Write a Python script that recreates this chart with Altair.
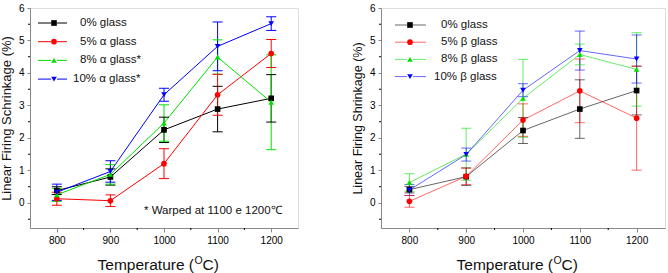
import altair as alt
import pandas as pd

# Firing temperatures (°C)
temps = [800, 900, 1000, 1100, 1200]

# Linear firing shrinkage (%) and error bars, alpha-glass additions
a0 = [0.38, 0.80, 2.25, 2.89, 3.22]
a0_err = [0.12, 0.25, 0.39, 0.70, 0.73]
a5 = [0.13, 0.07, 1.21, 3.33, 4.60]
a5_err = [0.20, 0.18, 0.46, 0.63, 0.43]
a8 = [0.25, 0.88, 2.46, 4.49, 3.10]
a8_err = [0.20, 0.30, 0.56, 0.53, 1.46]
a10 = [0.33, 0.97, 3.33, 4.82, 5.52]
a10_err = [0.25, 0.33, 0.20, 0.75, 0.21]

# Linear firing shrinkage (%) and error bars, beta-glass additions
b0 = [0.41, 0.81, 2.23, 2.89, 3.46]
b0_err = [0.10, 0.27, 0.40, 0.90, 0.75]
b5 = [0.05, 0.82, 2.55, 3.45, 2.61]
b5_err = [0.18, 0.25, 0.50, 0.98, 1.60]
b8 = [0.63, 1.50, 3.22, 4.57, 4.11]
b8_err = [0.27, 0.80, 1.20, 0.32, 1.13]
b10 = [0.40, 1.49, 3.47, 4.69, 4.43]
b10_err = [0.17, 0.20, 0.20, 0.60, 0.74]

alpha_labels = ["0% glass", "5% \u03b1 glass", "8% \u03b1 glass*", "10% \u03b1 glass*"]
beta_labels = ["0% glass", "5% \u03b2 glass", "8% \u03b2 glass", "10% \u03b2 glass"]
series_keys = ["s0", "s5", "s8", "s10"]
colors = ["#000000", "#ff0000", "#00e000", "#0000ff"]
shapes = ["square", "circle", "triangle-up", "triangle-down"]

y_ticks = [0, 1, 2, 3, 4, 5, 6]
y_minor = [-0.5, 0.5, 1.5, 2.5, 3.5, 4.5, 5.5]
x_ticks = [800, 900, 1000, 1100, 1200]
x_minor = [850, 950, 1050, 1150]

FONT = "Liberation Sans"


def make_frame(values, errors):
    rows = []
    for key, vals, errs in zip(series_keys, values, errors):
        for t, v, e in zip(temps, vals, errs):
            rows.append({"series": key, "temp": t, "value": v,
                         "lo": v - e, "hi": v + e})
    return pd.DataFrame(rows)


def panel(df, labels, ytitle, ytitle_size, width, height, line_opacity,
          legend_pos, note=None):
    xs = alt.Scale(domain=[750, 1250], nice=False, zero=False)
    ys = alt.Scale(domain=[-0.77, 6], nice=False, zero=False)
    cs = alt.Scale(domain=series_keys, range=colors)
    ss = alt.Scale(domain=series_keys, range=shapes)

    x_axis = alt.Axis(values=x_ticks, title=None, grid=False, tickSize=4,
                      labelPadding=3, format="d", labelOverlap=False)
    y_axis = alt.Axis(values=y_ticks, title=ytitle, grid=False, tickSize=3,
                      labelPadding=3, titlePadding=4.5, titleFontSize=ytitle_size,
                      titleFontWeight="normal", titleFont=FONT, titleColor="#111",
                      labelOverlap=False, format="d")

    def X(field):
        return alt.X(field, scale=xs, axis=x_axis)

    def Y(field):
        return alt.Y(field, scale=ys, axis=y_axis)

    col = alt.Color("series:N", scale=cs, legend=None)

    base = alt.Chart(df)
    lines = base.mark_line(strokeWidth=1, opacity=line_opacity).encode(
        x=X("temp:Q"), y=Y("value:Q"), color=col, detail="series:N")
    bars = base.mark_rule(strokeWidth=1, opacity=line_opacity).encode(
        x=X("temp:Q"), y=Y("lo:Q"), y2="hi:Q", color=col)
    cap_lo = base.mark_tick(size=10, thickness=1, orient="horizontal",
                            opacity=line_opacity).encode(
        x=X("temp:Q"), y=Y("lo:Q"), color=col)
    cap_hi = base.mark_tick(size=10, thickness=1, orient="horizontal",
                            opacity=line_opacity).encode(
        x=X("temp:Q"), y=Y("hi:Q"), color=col)
    pts = base.mark_point(filled=True, size=32, opacity=1).encode(
        x=X("temp:Q"), y=Y("value:Q"), color=col,
        shape=alt.Shape("series:N", scale=ss, legend=None))

    # minor ticks on both axes
    ymin_df = pd.DataFrame({"v": y_minor})
    xmin_df = pd.DataFrame({"v": x_minor})
    y_minor_ticks = alt.Chart(ymin_df).mark_rule(color="#000", strokeWidth=1).encode(
        y=Y("v:Q"), x=alt.value(-2), x2=alt.value(0))
    x_minor_ticks = alt.Chart(xmin_df).mark_rule(color="#000", strokeWidth=1).encode(
        x=X("v:Q"), y=alt.value(height), y2=alt.value(height + 2))

    layers = [lines, bars, cap_lo, cap_hi, pts, y_minor_ticks, x_minor_ticks]

    # hand-drawn legend: line, marker, label per series
    leg_df = pd.DataFrame({"series": series_keys, "label": labels})
    lx0, lm, lx1, tx, ly0, ldy = legend_pos
    for i, key in enumerate(series_keys):
        yy = ly0 + i * ldy
        lb = alt.Chart(leg_df).transform_filter(alt.datum.series == key)
        layers.append(lb.mark_rule(color=colors[i], strokeWidth=1, opacity=line_opacity).encode(
            x=alt.value(lx0), x2=alt.value(lm - 3), y=alt.value(yy)))
        layers.append(lb.mark_rule(color=colors[i], strokeWidth=1, opacity=line_opacity).encode(
            x=alt.value(lm + 3), x2=alt.value(lx1), y=alt.value(yy)))
        layers.append(lb.mark_point(filled=True, size=32, opacity=1, color=colors[i],
                                    shape=shapes[i]).encode(
            x=alt.value(lm), y=alt.value(yy)))
        shift = -7 if labels[i].startswith("10") else 0
        layers.append(lb.mark_text(align="left", baseline="middle", font=FONT,
                                   fontSize=11.5, color="#111").encode(
            x=alt.value(tx + shift), y=alt.value(yy), text="label:N"))

    one = pd.DataFrame({"k": [0]})
    tb = alt.Chart(one)
    # x-axis title with superscript degree "O"
    tcx = width / 2 + 30
    layers.append(tb.mark_text(align="right", baseline="alphabetic", font=FONT,
                               fontSize=15.5, color="#111").encode(
        x=alt.value(tcx), y=alt.value(height + 42), text=alt.value("Temperature (")))
    layers.append(tb.mark_text(align="left", baseline="alphabetic", font=FONT,
                               fontSize=10.5, color="#111").encode(
        x=alt.value(tcx + 0.5), y=alt.value(height + 36), text=alt.value("O")))
    layers.append(tb.mark_text(align="left", baseline="alphabetic", font=FONT,
                               fontSize=15.5, color="#111").encode(
        x=alt.value(tcx + 8.5), y=alt.value(height + 42), text=alt.value("C)")))
    if note:
        layers.append(tb.mark_text(align="left", baseline="middle", font=FONT,
                                   fontSize=11.5, color="#111").encode(
            x=alt.value(114), y=alt.value(203), text=alt.value(note)))

    return alt.layer(*layers).properties(width=width, height=height)


df_a = make_frame([a0, a5, a8, a10], [a0_err, a5_err, a8_err, a10_err])
df_b = make_frame([b0, b5, b8, b10], [b0_err, b5_err, b8_err, b10_err])

left = panel(df_a, alpha_labels, "Linear Firing Schrinkage (%)", 13, 268, 220, 1.0,
             (8, 24, 37, 50, 15, 18.7), note="* Warped at 1100 e 1200\u2103")
right = panel(df_b, beta_labels, "Linear Firing Shrinkage (%)", 12.5, 284, 220, 0.6,
              (14, 29, 45, 60, 17, 17.2))

chart = alt.hconcat(left, right, spacing=52).properties(
    padding={"left": 0, "top": 2, "right": 0, "bottom": 0}
).configure_view(stroke=None).configure_axis(
    domainColor="#000", tickColor="#000", labelFont=FONT, labelFontSize=11.5,
    labelColor="#111", domainWidth=1, tickWidth=1,
).configure(background="white")

chart.save("out.html", embed_options={"renderer": "svg", "actions": False})
